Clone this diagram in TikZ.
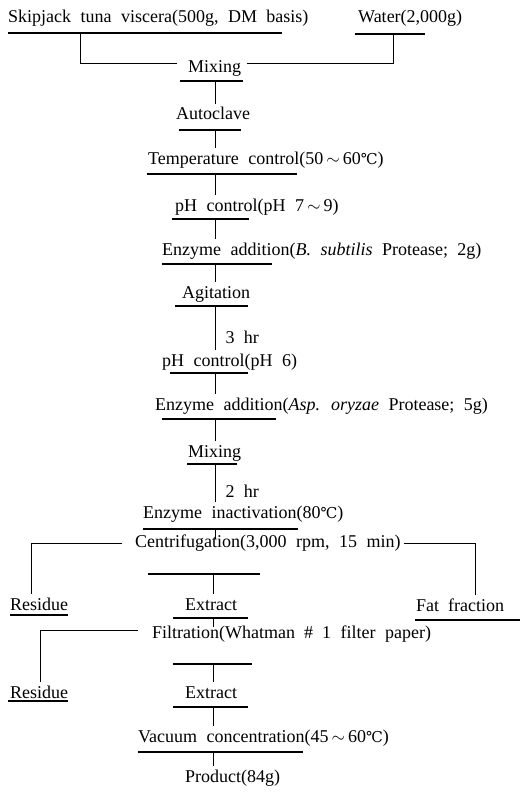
\documentclass[tikz,border=0pt]{standalone}
\usepackage{fontspec}
\setmainfont{Liberation Serif}[WordSpace=2.1]
\newfontfamily\degfont{DejaVu Serif}
\usepackage{tikz}
\usetikzlibrary{positioning}

\newcommand{\degC}{{\degfont\fontsize{15}{15}\selectfont ℃}}
\newcommand{\wave}{\,$\sim$\,}

\begin{document}
\begin{tikzpicture}[x=1pt, y=-1pt]
    \tikzstyle{stage} = [anchor=base west, inner xsep=0pt, inner ysep=4pt, text height=12pt, text depth=4pt, font=\fontsize{18}{20}\selectfont]
    \tikzstyle{note} = [anchor=west, xshift=10pt, inner sep=0pt, font=\fontsize{18}{20}\selectfont]
    \tikzstyle{bar} = [draw, line width=1.1pt]
    \tikzstyle{link} = [draw, line width=1pt]

    \useasboundingbox (0,0) rectangle (519,797);

    % process steps
    \node [stage] (viscera) at (8,23) {Skipjack tuna viscera(500g, DM basis)};
    \node [stage] (water) at (358,23) {Water(2,000g)};
    \node [stage] (mix1) at (188,73) {Mixing};
    \node [stage] (autoclave) at (176,120) {Autoclave};
    \node [stage] (tempctl) at (148,164) {Temperature control(50\wave60\degC)};
    \node [stage] (phup) at (175,211) {pH control(pH 7\wave9)};
    \node [stage] (bsub) at (162,255) {Enzyme addition(\textit{B. subtilis} Protease; 2g)};
    \node [stage] (agit) at (182,298) {Agitation};
    \node [stage] (phdown) at (162,366) {pH control(pH 6)};
    \node [stage] (asp) at (155,410) {Enzyme addition(\textit{Asp. oryzae} Protease; 5g)};
    \node [stage] (mix2) at (188,457) {Mixing};
    \node [stage] (inact) at (143,518) {Enzyme inactivation(80\degC)};
    \node [stage] (centri) at (135,547) {Centrifugation(3,000 rpm, 15 min)};
    \node [stage] (res1) at (10,610) {Residue};
    \node [stage] (ext1) at (185,610) {Extract};
    \node [stage] (fat) at (416,611) {Fat\enspace fraction};
    \node [stage] (filt) at (152,638) {Filtration(Whatman\enspace \#\enspace 1 filter paper)};
    \node [stage] (res2) at (10,698) {Residue};
    \node [stage] (ext2) at (185,698) {Extract};
    \node [stage] (vac) at (138,742) {Vacuum concentration(45\wave60\degC)};
    \node [stage] (product) at (185,782) {Product(84g)};

    % underlines
    \path [bar] (8,33) -- (282,33);
    \path [bar] (355,34) -- (425,34);
    \path [bar] (180,81) -- (243,81);
    \path [bar] (179,130) -- (241,130);
    \path [bar] (147,174) -- (297,174);
    \path [bar] (172,219) -- (249,219);
    \path [bar] (162,264) -- (272,264);
    \path [bar] (175,306) -- (248,306);
    \path [bar] (170,373) -- (248,373);
    \path [bar] (162,419) -- (276,419);
    \path [bar] (187,464) -- (237,464);
    \path [bar] (143,529) -- (298,529);
    \path [bar] (148,574) -- (260,574);
    \path [bar] (10,615) -- (68,615);
    \path [bar] (173,618) -- (248,618);
    \path [bar] (415,620) -- (520,620);
    \path [bar] (173,664) -- (252,664);
    \path [bar] (8,701) -- (68,701);
    \path [bar] (173,707) -- (248,707);
    \path [bar] (138,752) -- (303,752);

    % drop points on the underlines
    \coordinate (dsk) at (80,33);
    \coordinate (dwa) at (393,34);
    \coordinate (dmix1) at (215,81);
    \coordinate (dauto) at (215,130);
    \coordinate (dtemp) at (215,174);
    \coordinate (dphup) at (215,219);
    \coordinate (dbsub) at (215,264);
    \coordinate (dagit) at (215,306);
    \coordinate (dphdown) at (215,373);
    \coordinate (dasp) at (215,419);
    \coordinate (dmix2) at (215,464);
    \coordinate (dinact) at (215,529);
    \coordinate (dcentri) at (213,574);
    \coordinate (dext1) at (213,618);
    \coordinate (dfilt) at (213,664);
    \coordinate (dext2) at (213,707);
    \coordinate (dvac) at (213,752);
    \coordinate (cl) at (31,543);
    \coordinate (cr) at (475,545);
    \coordinate (fl) at (40,630);

    % connectors
    \path [link, shorten >=11pt] (dsk) |- ([yshift=5pt]mix1.west);
    \path [link, shorten >=6pt] (dwa) |- ([yshift=5pt]mix1.east);
    \path [link] (dmix1) -- (dmix1 |- autoclave.north);
    \path [link] (dauto) -- (dauto |- tempctl.north);
    \path [link] (dtemp) -- (dtemp |- phup.north);
    \path [link] (dphup) -- (dphup |- bsub.north);
    \path [link] (dbsub) -- (dbsub |- agit.north);
    \path [link] (dagit) -- node [note, pos=0.72] {3 hr} (dagit |- phdown.north);
    \path [link] (dphdown) -- (dphdown |- asp.north);
    \path [link] (dasp) -- (dasp |- mix2.north);
    \path [link] (dmix2) -- node [note, pos=0.71] {2 hr} (dmix2 |- inact.north);
    \path [link] (dinact) -- ([yshift=-8pt]dinact |- centri.north);
    \path [link, shorten <=13pt] (centri.west) -| (cl |- res1.north);
    \path [link, shorten <=3pt] (centri.east) -| (cr |- fat.north);
    \path [link] (dcentri) -- (dcentri |- ext1.north);
    \path [link] (dext1) -- ([yshift=-5pt]dext1 |- filt.north);
    \path [link, shorten <=14pt] ([yshift=4pt]filt.west) -| (fl |- res2.north);
    \path [link] (dfilt) -- (dfilt |- ext2.north);
    \path [link] (dext2) -- (dext2 |- vac.north);
    \path [link] (dvac) -- (dvac |- product.north);
\end{tikzpicture}
\end{document}
